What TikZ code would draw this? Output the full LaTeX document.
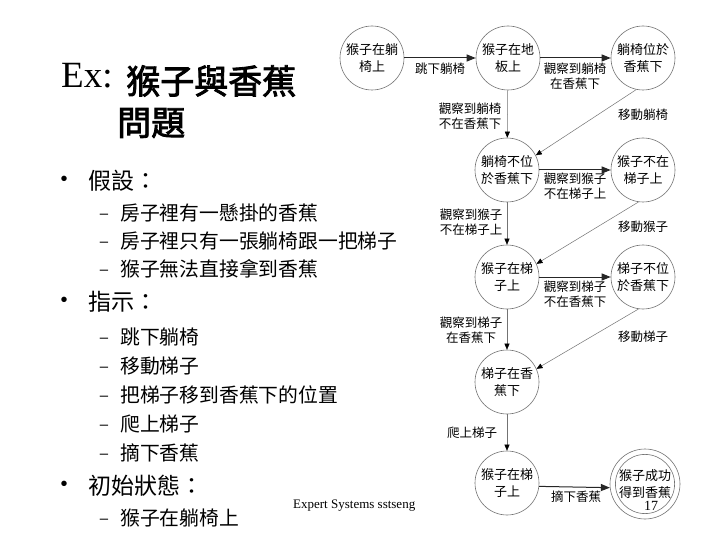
\documentclass[tikz,border=0pt]{standalone}
\usepackage{fontspec}
\setmainfont{Liberation Serif}
\newfontfamily\cjk{Noto Sans CJK TC}
\newfontfamily\cjkb[FakeBold=2.5]{Noto Sans CJK TC}
\newfontfamily\lsans{Liberation Sans}
\usetikzlibrary{arrows.meta}
\begin{document}
\begin{tikzpicture}[x=1pt,y=-1pt,
  st/.style={circle,draw=black!55,line width=0.6pt,minimum size=64pt,inner sep=0pt,align=center,font=\cjk\fontsize{13}{16.5}\selectfont},
  harr/.style={-{Triangle[length=9pt,width=7pt]},line width=1pt,black!85},
  varr/.style={-{Triangle[length=6pt,width=5pt,color=black]},line width=0.5pt,black!55},
  elab/.style={font=\cjk\fontsize{12.5}{15}\selectfont,align=center,inner sep=0pt},
  bul/.style={font=\lsans\fontsize{20}{20}\selectfont,inner sep=0pt},
  dsh/.style={font=\lsans\fontsize{15}{15}\selectfont,inner sep=0pt},
  head/.style={font=\cjk\fontsize{23}{23}\selectfont,anchor=west,inner sep=0pt},
  item/.style={font=\cjk\fontsize{19.8}{20}\selectfont,anchor=west,inner sep=0pt}]
\useasboundingbox (0,0) rectangle (720,540);
\fill[white] (0,0) rectangle (720,540);
% title
\node[anchor=base west,inner sep=0pt,font=\fontsize{37}{37}\selectfont] (ex) at (61,88) {Ex:};
\node[anchor=west,inner sep=0pt,font=\cjkb\fontsize{34}{34}\selectfont] (t1) at (126,81) {猴子與香蕉};
\node[anchor=west,inner sep=0pt,font=\cjkb\fontsize{34}{34}\selectfont] (t2) at (117,123) {問題};
% bullets
\node[bul] (b1) at (64,181) {•};
\node[head] (h1) at (88,181) {假設：};
\node[dsh] (d11) at (104,216) {–}; \node[item] (i11) at (120,213) {房子裡有一懸掛的香蕉};
\node[dsh] (d12) at (104,244) {–}; \node[item] (i12) at (120,241) {房子裡只有一張躺椅跟一把梯子};
\node[dsh] (d13) at (104,272) {–}; \node[item] (i13) at (120,269) {猴子無法直接拿到香蕉};
\node[bul] (b2) at (64,302) {•};
\node[head] (h2) at (88,302) {指示：};
\node[dsh] (d21) at (104,340) {–}; \node[item] (i21) at (120,337) {跳下躺椅};
\node[dsh] (d22) at (104,369) {–}; \node[item] (i22) at (120,366) {移動梯子};
\node[dsh] (d23) at (104,398) {–}; \node[item] (i23) at (120,395) {把梯子移到香蕉下的位置};
\node[dsh] (d24) at (104,427) {–}; \node[item] (i24) at (120,424) {爬上梯子};
\node[dsh] (d25) at (104,456) {–}; \node[item] (i25) at (120,453) {摘下香蕉};
\node[bul] (b3) at (64,486) {•};
\node[head] (h3) at (88,486) {初始狀態：};
\node[dsh] (d31) at (104,521) {–}; \node[item] (i31) at (120,518) {猴子在躺椅上};
\node[anchor=west,inner sep=0pt,font=\fontsize{13}{13}\selectfont] (foot) at (293,506) {Expert Systems sstseng};
% states
\node[st] (c1) at (372,58) {猴子在躺\\椅上};
\node[st] (c2) at (508,58) {猴子在地\\板上};
\node[st] (c3) at (643,58) {躺椅位於\\香蕉下};
\node[st] (c4) at (507,170) {躺椅不位\\於香蕉下};
\node[st] (c5) at (643,170) {猴子不在\\梯子上};
\node[st] (c6) at (507,277) {猴子在梯\\子上};
\node[st] (c7) at (643,277) {梯子不位\\於香蕉下};
\node[st] (c8) at (507,382) {梯子在香\\蕉下};
\node[st] (c9) at (507,483) {猴子在梯\\子上};
\node[circle,draw=black!55,line width=0.6pt,minimum size=70pt,inner sep=0pt] (c10) at (645,484) {};
\node[st,minimum size=59pt] (c10i) at (645,484) {猴子成功\\得到香蕉};
\node[inner sep=0pt,font=\fontsize{14}{14}\selectfont] (pg) at (651,506) {17};
% transitions
\draw[harr] (c1) -- (c2);
\draw[harr] (c2) -- (c3);
\draw[varr] (c2) -- (c4);
\draw[varr] (c3.258) -- (c4.27);
\draw[harr] (c4) -- (c5);
\draw[varr] (c4) -- (c6);
\draw[varr] (c5.262) -- (c6.24);
\draw[harr] (c6) -- (c7);
\draw[varr] (c6) -- (c8);
\draw[varr] (c7.262) -- (c8.24);
\draw[varr] (c8) -- (c9);
\draw[harr] (c9.-6) -- (c10.186);
% labels
\node[elab] (l12) at (440,69) {跳下躺椅};
\node[elab] (l23) at (575,76) {觀察到躺椅\\在香蕉下};
\node[elab] (l24) at (470,116) {觀察到躺椅\\不在香蕉下};
\node[elab] (l34) at (643,115) {移動躺椅};
\node[elab] (l45) at (575,186) {觀察到猴子\\不在梯子上};
\node[elab] (l46) at (471,222) {觀察到猴子\\不在梯子上};
\node[elab] (l56) at (643,227) {移動猴子};
\node[elab] (l67) at (575,294) {觀察到梯子\\不在香蕉下};
\node[elab] (l68) at (471,330) {觀察到梯子\\在香蕉下};
\node[elab] (l78) at (643,337) {移動梯子};
\node[elab] (l89) at (472,433) {爬上梯子};
\node[elab] (l910) at (576,497) {摘下香蕉};
\end{tikzpicture}
\end{document}
